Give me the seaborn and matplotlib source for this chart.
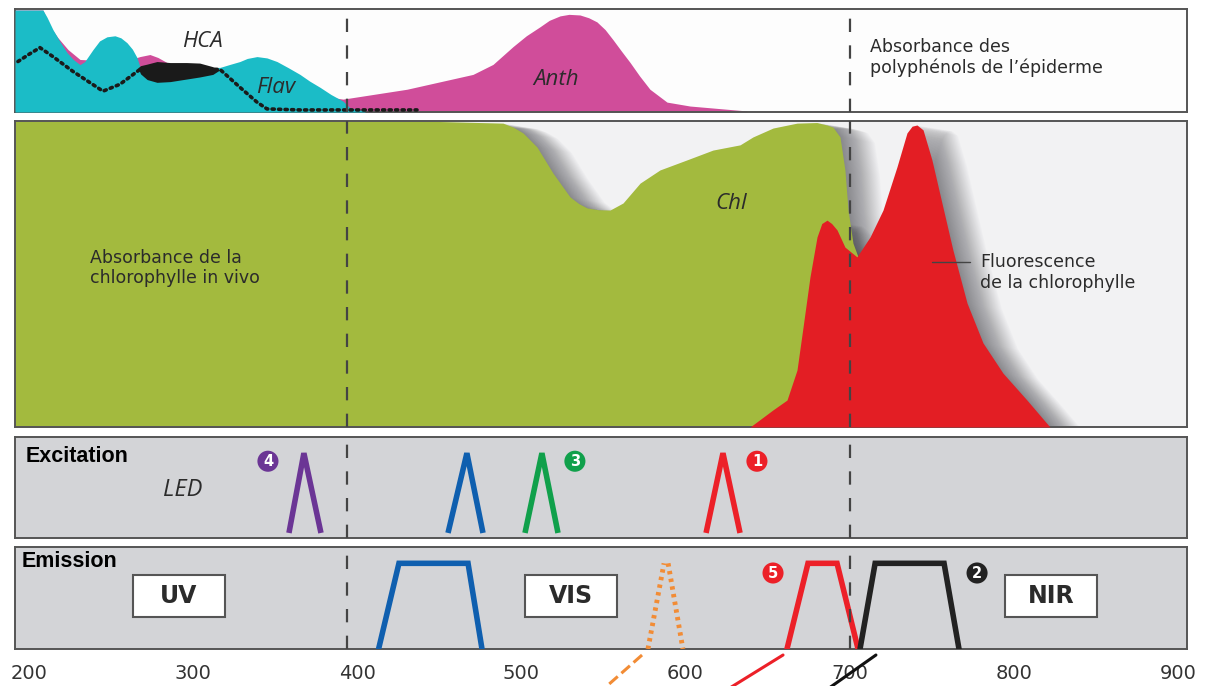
import numpy as np
import pandas as pd
import matplotlib
matplotlib.use("Agg")
import matplotlib.pyplot as plt
import seaborn as sns
from matplotlib.transforms import ScaledTranslation
from matplotlib.patches import Rectangle

# ---------------- data (wavelength in nm, relative levels 0..1) ----------------
x_ticks = [200, 300, 400, 500, 600, 700, 800, 900]
dash_nm = [394, 700]

# top panel : polyphenol absorbance
flav_nm = [191.5, 208.5, 211, 214.6, 219, 223.2, 227, 231.1, 234, 239, 243, 247.5, 252.4,
           256, 259.7, 263, 265.8, 267.6, 280, 300, 316.4, 322, 328.5, 333, 338.9, 345,
           351.1, 358, 365.1, 371, 377.3, 384, 391.3, 395.6, 404.7]
flav_abs = [0.99, 0.99, 0.92, 0.80, 0.68, 0.577, 0.51, 0.46, 0.49, 0.606, 0.69, 0.73, 0.74,
            0.72, 0.673, 0.61, 0.529, 0.442, 0.43, 0.43, 0.433, 0.46, 0.49, 0.52, 0.538, 0.525,
            0.49, 0.43, 0.365, 0.30, 0.24, 0.17, 0.106, 0.04, 0.01]
anth_nm = [191.5, 208.5, 212.8, 217.7, 223.8, 231.1, 243, 260, 267.6, 273.7, 278.6, 292, 330,
           360, 391.3, 430.3, 470.5, 482.7, 494.9, 503, 511.3, 517, 523.5, 529, 535.7, 541,
           546, 551, 555.8, 561, 566.2, 572, 578.3, 588.7, 602.7, 637.4]
anth_abs = [0.99, 0.99, 0.83, 0.72, 0.606, 0.51, 0.50, 0.50, 0.538, 0.558, 0.529, 0.41, 0.30,
            0.20, 0.125, 0.221, 0.365, 0.462, 0.635, 0.74, 0.827, 0.89, 0.933, 0.948, 0.942,
            0.915, 0.875, 0.80, 0.702, 0.59, 0.481, 0.35, 0.221, 0.096, 0.058, 0.01]
hca_nm = [266.4, 268, 272, 278, 286, 296, 304, 312, 316.4]
hca_top = [0.43, 0.45, 0.465, 0.49, 0.48, 0.48, 0.475, 0.44, 0.41]
hca_bottom = [0.43, 0.37, 0.315, 0.288, 0.295, 0.32, 0.34, 0.365, 0.41]
dotted_nm = [193.3, 200, 206.7, 214.6, 226.8, 245.1, 255.4, 267.6, 290, 316.4, 328.5, 338.9,
             345, 365.1, 436.4]
dotted_abs = [0.49, 0.56, 0.625, 0.538, 0.394, 0.202, 0.269, 0.413, 0.42, 0.413, 0.24, 0.096,
              0.03, 0.02, 0.02]

# middle panel : chlorophyll absorbance and fluorescence
chl_nm = [191.5, 438.2, 488.8, 495, 501, 509.5, 519.2, 529.6, 535, 540, 547, 554, 561.9,
          572.3, 584.4, 600.9, 616.7, 633.2, 641.1, 653.3, 667.9, 680, 686.2, 689.8, 694.1,
          697.1, 699, 702, 705.1, 712.4]
chl_abs = [1.0, 1.0, 0.993, 0.98, 0.961, 0.915, 0.83, 0.752, 0.73, 0.716, 0.71, 0.709, 0.732,
           0.797, 0.84, 0.873, 0.905, 0.922, 0.948, 0.977, 0.993, 0.995, 0.987, 0.98, 0.948,
           0.84, 0.709, 0.601, 0.556, 0.0]
fluo_nm = [639.3, 653.3, 661.8, 667.9, 671.6, 675.8, 680.1, 683, 686.2, 689, 692.3, 697.1,
           704.4, 712.4, 720.3, 728.8, 734.9, 738, 741, 744.7, 750.1, 756.2, 762.9, 771.5,
           781.2, 793.4, 808, 822]
fluo_val = [0.0, 0.056, 0.088, 0.186, 0.327, 0.49, 0.621, 0.665, 0.676, 0.665, 0.644, 0.588,
            0.556, 0.621, 0.709, 0.85, 0.961, 0.983, 0.987, 0.971, 0.873, 0.732, 0.578, 0.405,
            0.275, 0.176, 0.088, 0.0]

# excitation LEDs
led_names = ["UV", "bleu", "vert", "rouge"]
led_colors = ["#6b3595", "#0f5faf", "#10a04b", "#ec2028"]
led_left = [358.4, 455.3, 502.2, 612.5]
led_peak = [367.5, 466.8, 512.5, 622.8]
led_right = [377.9, 476.6, 522.3, 633.2]
exc_badge_text = ["4", "3", "1"]
exc_badge_nm = [345.6, 532.6, 643.5]
exc_badge_color = ["#6b3595", "#10a04b", "#ec2028"]

# emission filters (trapezoids)
em_names = ["bleu", "rouge", "NIR"]
em_colors = ["#0f5faf", "#ec2028", "#222222"]
em_left = [413.0, 661.8, 706.3]
em_top_left = [425.4, 674.6, 715.5]
em_top_right = [467.5, 692.3, 757.5]
em_right = [476.0, 705.1, 766.6]
orange_nm = [577.1, 586.9, 598.4]
em_badge_text = ["5", "2"]
em_badge_nm = [653.3, 777.6]
em_badge_color = ["#ec2028", "#222222"]
band_labels = ["UV", "VIS", "NIR"]
band_left = [263.4, 502.2, 794.6]
band_right = [319.4, 558.2, 850.7]

# connector lines leaving the bottom of the figure
link_colors = ["#f28c35", "#ec2028", "#111111"]
link_styles = ["--", "-", "-"]
link_nm_top = [573.5, 659.4, 716.0]
link_nm_bottom = [535.4, 605.1, 668.3]

# ---------------- style ----------------
sns.set_theme(style="white")
plt.rcParams["font.family"] = ["DejaVu Sans"]

W, H = 1206, 686
fig = plt.figure(figsize=(W / 100, H / 100), dpi=100)
fig.patch.set_facecolor("white")

def ax_at(x0, y0, x1, y1):
    return fig.add_axes([x0 / W, 1 - y1 / H, (x1 - x0) / W, (y1 - y0) / H])

ax_top = ax_at(15, 9, 1187, 112)
ax_mid = ax_at(15, 121, 1187, 427)
ax_exc = ax_at(15, 437, 1187, 538)
ax_em = ax_at(15, 547, 1187, 649)
XLIM = (191.5, 905.5)

for ax in (ax_top, ax_mid, ax_exc, ax_em):
    ax.set_xlim(*XLIM)
    ax.set_ylim(0, 1)
    ax.set_xticks([])
    ax.set_yticks([])
    for s in ax.spines.values():
        s.set_color("#555555")
        s.set_linewidth(1.4)

ax_top.set_facecolor("#fdfdfd")
ax_mid.set_facecolor("#f2f2f3")
ax_exc.set_facecolor("#d3d4d7")
ax_em.set_facecolor("#d3d4d7")

CYAN = "#1bbcc7"
MAGENTA = "#d04d9a"
GREEN = "#a3ba3e"
RED = "#e31e24"

# ---- top panel ----
ax_top.fill_between(anth_nm, 0, anth_abs, color=MAGENTA, lw=0, zorder=2)
ax_top.fill_between(flav_nm, 0, flav_abs, color=CYAN, lw=0, zorder=3)
sns.lineplot(x=dotted_nm, y=dotted_abs, ax=ax_top, color="#1a1a1a", lw=2.6,
             linestyle=(0, (0.6, 1.2)), sort=False, zorder=4)
ax_top.lines[-1].set_dash_capstyle("round")
ax_top.fill_between(hca_nm, hca_bottom, hca_top, color="#1a1a1a", lw=0, zorder=5)

ital = dict(family="Open Sans", style="italic", fontsize=16, color="#2b2b2b", zorder=6)
ax_top.text(305.4, 0.683, "HCA", ha="center", va="center", **ital)
ax_top.text(350.5, 0.24, "Flav", ha="center", va="center", **ital)
ax_top.text(521, 0.317, "Anth", ha="center", va="center", **ital)
ax_top.text(712.4, 0.53, "Absorbance des\npolyphénols de l\u2019épiderme", ha="left",
            va="center", fontsize=12.5, color="#2b2b2b", linespacing=1.15)

# ---- middle panel ----
# soft shadow: many slightly shifted, faint copies of the two spectra
n_layers = 40
for k in range(1, n_layers + 1):
    off = ax_mid.transData + ScaledTranslation(k * 0.62 / 72, -k * 0.1 / 72, fig.dpi_scale_trans)
    ax_mid.fill_between(chl_nm, 0, chl_abs, color="#2e2e36", alpha=0.016, lw=0,
                        antialiased=False, transform=off, zorder=1)
    ax_mid.fill_between(fluo_nm, 0, fluo_val, color="#2e2e36", alpha=0.016, lw=0,
                        antialiased=False, transform=off, zorder=1)
ax_mid.fill_between(chl_nm, 0, chl_abs, color=GREEN, lw=0, zorder=2)
ax_mid.fill_between(fluo_nm, 0, fluo_val, color=RED, lw=0, zorder=3)

ax_mid.text(627.7, 0.729, "Chl", ha="center", va="center", **ital)
ax_mid.text(237.2, 0.52, "Absorbance de la\nchlorophylle in vivo", ha="left", va="center",
            fontsize=12.5, color="#2b2b2b", linespacing=1.15, zorder=6)
ax_mid.plot([750.1, 773.3], [0.539, 0.539], color="#444444", lw=1.0, zorder=6)
ax_mid.text(779.4, 0.505, "Fluorescence\nde la chlorophylle", ha="left", va="center",
            fontsize=12.5, color="#2b2b2b", linespacing=1.15, zorder=6)

# ---- excitation panel ----
rows = []
for n, l, p, r in zip(led_names, led_left, led_peak, led_right):
    rows += [(n, l, 0.05), (n, p, 0.84), (n, r, 0.05)]
df_led = pd.DataFrame(rows, columns=["led", "nm", "level"])
sns.lineplot(data=df_led, x="nm", y="level", hue="led", palette=dict(zip(led_names, led_colors)),
             ax=ax_exc, sort=False, lw=4, legend=False, zorder=3)
for ln in ax_exc.lines:
    ln.set_solid_joinstyle("bevel")
    ln.set_solid_capstyle("butt")

def badges(ax, nms, ys, texts, colors):
    ax.scatter(nms, [ys] * len(nms), s=230, c=colors, zorder=5, linewidths=0)
    for xv, t in zip(nms, texts):
        ax.text(xv, ys, t, ha="center", va="center", color="white", fontsize=10.5,
                fontweight="bold", zorder=6)

badges(ax_exc, exc_badge_nm, 0.76, exc_badge_text, exc_badge_color)
ax_exc.text(0.009, 0.81, "Excitation", transform=ax_exc.transAxes, ha="left", va="center",
            family="Liberation Sans", fontweight="bold", fontsize=15.5, color="black")
ax_exc.text(293.8, 0.48, "LED", ha="center", va="center", **dict(ital, fontsize=17))

# ---- emission panel ----
rows = []
for n, a, b, c, d in zip(em_names, em_left, em_top_left, em_top_right, em_right):
    rows += [(n, a, 0.0), (n, b, 0.84), (n, c, 0.84), (n, d, 0.0)]
df_em = pd.DataFrame(rows, columns=["filtre", "nm", "level"])
sns.lineplot(data=df_em, x="nm", y="level", hue="filtre", palette=dict(zip(em_names, em_colors)),
             ax=ax_em, sort=False, lw=4, legend=False, zorder=3)
for ln in ax_em.lines:
    ln.set_solid_joinstyle("miter")
ax_em.plot([orange_nm[0], orange_nm[1]], [0.0, 0.84], color="#f28c35", lw=3.5,
           linestyle=(0, (0.7, 0.9)), zorder=3)
ax_em.plot([orange_nm[1] + 2.5, orange_nm[2]], [0.84, 0.0], color="#f28c35", lw=3.5,
           linestyle=(0, (0.7, 0.9)), zorder=3)

badges(ax_em, em_badge_nm, 0.745, em_badge_text, em_badge_color)
for lab, l, r in zip(band_labels, band_left, band_right):
    ax_em.add_patch(Rectangle((l, 0.314), r - l, 0.411, facecolor="white", edgecolor="#555555",
                              lw=1.5, zorder=4))
    ax_em.text((l + r) / 2, 0.52, lab, ha="center", va="center", fontsize=17,
               fontweight="bold", color="#2b2b2b", zorder=5)
ax_em.text(0.006, 0.86, "Emission", transform=ax_em.transAxes, ha="left", va="center",
           family="Liberation Sans", fontweight="bold", fontsize=15.5, color="black")

for c, ls, t, b in zip(link_colors, link_styles, link_nm_top, link_nm_bottom):
    ax_em.plot([t, b], [-0.059, -0.6], color=c, ls=ls, lw=2.2, clip_on=False, zorder=3)

# dashed wavelength markers in every panel
for ax in (ax_top, ax_mid, ax_exc, ax_em):
    for d in dash_nm:
        ax.axvline(d, color="#444444", lw=1.6, ls=(0, (6, 6)), zorder=7)

# wavelength axis labels under the last panel
ax_em.set_xticks(x_ticks)
ax_em.set_xticklabels([str(v) for v in x_ticks], fontsize=14, color="#333333")
ax_em.tick_params(axis="x", length=0, pad=11)

fig.savefig("out.png", dpi=100)
